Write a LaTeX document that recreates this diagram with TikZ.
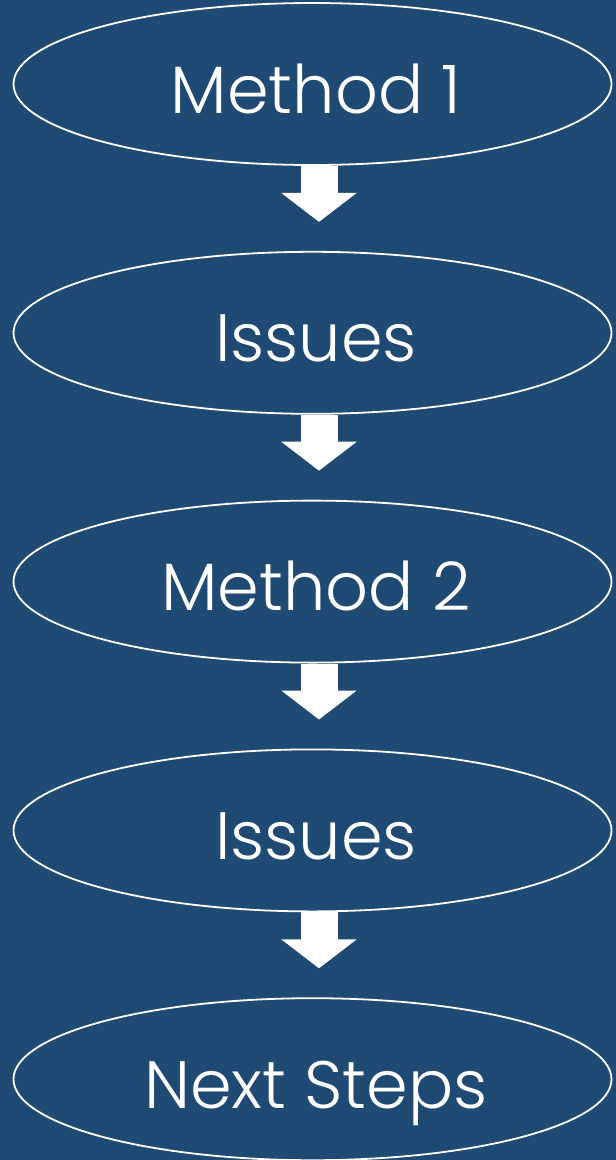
\documentclass[tikz,border=0pt]{standalone}
\usepackage{fontspec}
\setmainfont{Poppins Light}
\usepackage{tikz}
\usetikzlibrary{shapes.geometric,positioning,arrows.meta}
\definecolor{slideblue}{HTML}{1F4A73}

\begin{document}
\begin{tikzpicture}[
    node distance=85pt,
    >={Triangle[width=74pt,length=29pt]},
    x=1pt, y=1pt
]


\tikzstyle{step box}=[
    ellipse,
    draw=white,
    line width=1.8pt,
    minimum width=598pt,
    minimum height=162pt,
    inner sep=0pt,
    text=white,
    text height=58pt,
    text depth=0pt,
    execute at begin node={\hspace{7pt}},
    font=\fontsize{67}{72}\selectfont
]
\tikzstyle{flow}=[
    ->,
    white,
    line width=37pt,
    shorten >=29pt
]


\fill[slideblue] (0,0) rectangle (616,-1160);
\useasboundingbox (0,0) rectangle (616,-1160);


\node[step box] (m1) at (312.5,-84) {Method 1};
\node[step box, below=of m1] (iss1) {Issues};
\node[step box, below=of iss1] (m2) {Method 2};
\node[step box, below=of m2] (iss2) {Issues};
\node[step box, below=of iss2] (next) {Next Steps};


\draw[flow] ([xshift=6.5pt]m1.south) -- ([xshift=6.5pt]iss1.north);
\draw[flow] ([xshift=6.5pt]iss1.south) -- ([xshift=6.5pt]m2.north);
\draw[flow] ([xshift=6.5pt]m2.south) -- ([xshift=6.5pt]iss2.north);
\draw[flow] ([xshift=6.5pt]iss2.south) -- ([xshift=6.5pt]next.north);

\end{tikzpicture}
\end{document}
